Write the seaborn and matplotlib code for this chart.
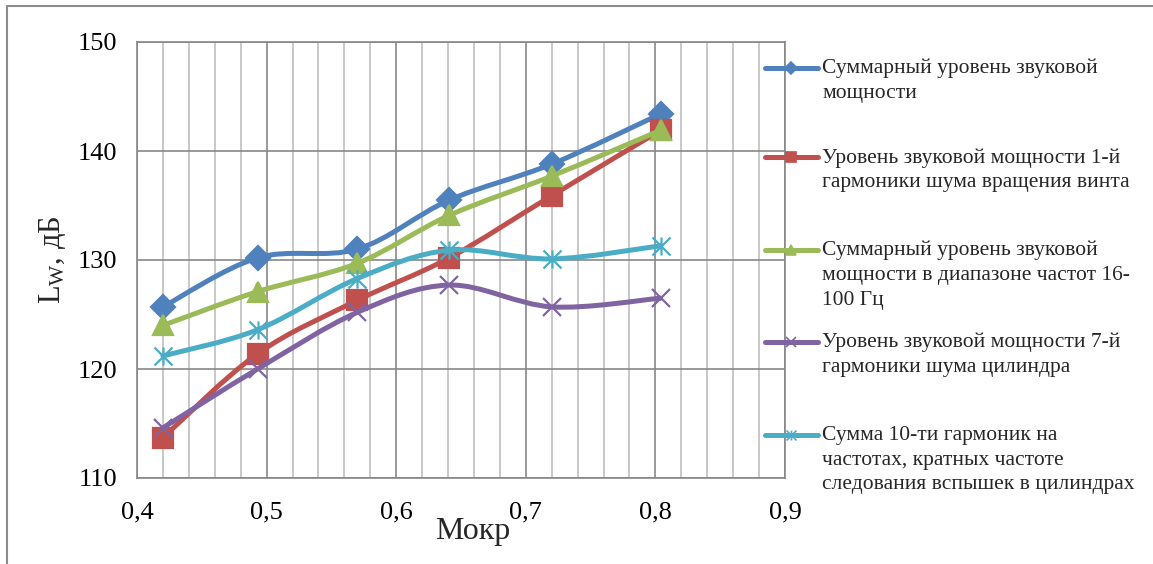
import numpy as np
import pandas as pd
import seaborn as sns
import matplotlib
matplotlib.use("Agg")
import matplotlib.pyplot as plt
from matplotlib.path import Path
from matplotlib.patches import PathPatch
from matplotlib.lines import Line2D
from matplotlib.ticker import MultipleLocator, FuncFormatter

# Mach number values (Мокр)
mach = [0.42, 0.493, 0.57, 0.641, 0.72, 0.804]

# Sound power levels, dB
total_level = [125.7, 130.2, 131.0, 135.5, 138.8, 143.4]
prop_h1 = [113.7, 121.4, 126.3, 130.2, 135.9, 141.9]
band_16_100 = [124.0, 127.1, 129.7, 134.1, 137.7, 141.9]
cyl_h7 = [114.6, 120.0, 125.2, 127.7, 125.7, 126.5]
firing_sum = [121.2, 123.6, 128.3, 130.9, 130.1, 131.3]

series_names = [
    "Суммарный уровень звуковой\nмощности",
    "Уровень звуковой мощности 1-й\nгармоники шума вращения винта",
    "Суммарный уровень звуковой\nмощности в диапазоне частот 16-\n100 Гц",
    "Уровень звуковой мощности 7-й\nгармоники шума цилиндра",
    "Сумма 10-ти гармоник на\nчастотах, кратных частоте\nследования вспышек в цилиндрах",
]
series_values = [total_level, prop_h1, band_16_100, cyl_h7, firing_sum]

x_ticks = [0.4, 0.5, 0.6, 0.7, 0.8, 0.9]
y_ticks = [110, 120, 130, 140, 150]

colors = ["#4F81BD", "#C0504D", "#9BBB59", "#8064A2", "#4BACC6"]

# Excel-style "star" marker: an X with a vertical stroke
star = Path(
    [(-1, -1), (1, 1), (-1, 1), (1, -1), (0, -1), (0, 1)],
    [Path.MOVETO, Path.LINETO, Path.MOVETO, Path.LINETO, Path.MOVETO, Path.LINETO],
)
markers = ["D", "s", "^", "x", star]
msizes = [12, 14, 14, 13, 13]

df = pd.concat(
    [pd.DataFrame({"Мокр": mach, "Lw": v, "series": n}) for n, v in zip(series_names, series_values)],
    ignore_index=True,
)

sns.set_style("white")
plt.rcParams["font.family"] = ["Liberation Serif", "DejaVu Serif"]
plt.rcParams["mathtext.fontset"] = "custom"
plt.rcParams["mathtext.rm"] = "Liberation Serif"

fig = plt.figure(figsize=(11.53, 5.64), dpi=100)
ax = fig.add_axes([137 / 1153, 1 - 478 / 564, (785 - 137) / 1153, (478 - 42) / 564])


def smooth_path(xs, ys):
    """Catmull-Rom style cubic Bezier through the points (Excel smoothed line)."""
    pts = np.column_stack([xs, ys])
    verts = [tuple(pts[0])]
    codes = [Path.MOVETO]
    n = len(pts)
    for i in range(n - 1):
        p0 = pts[max(i - 1, 0)]
        p1 = pts[i]
        p2 = pts[i + 1]
        p3 = pts[min(i + 2, n - 1)]
        c1 = p1 + (p2 - p0) / 6.0
        c2 = p2 - (p3 - p1) / 6.0
        verts += [tuple(c1), tuple(c2), tuple(p2)]
        codes += [Path.CURVE4] * 3
    return Path(verts, codes)


for k, name in enumerate(series_names):
    sub = df[df["series"] == name]
    z = 3 + k
    ax.add_patch(PathPatch(smooth_path(sub["Мокр"].values, sub["Lw"].values),
                           facecolor="none", edgecolor=colors[k], lw=3.6,
                           capstyle="round", joinstyle="round", zorder=z))
    sns.lineplot(data=sub, x="Мокр", y="Lw", ax=ax, sort=False, color=colors[k],
                 linewidth=0, marker=markers[k], markersize=msizes[k],
                 markeredgecolor=colors[k], markerfacecolor=colors[k],
                 markeredgewidth=1.6, legend=False, zorder=z + 0.5)

ax.set_xlim(0.4, 0.9)
ax.set_ylim(110, 150)
ax.set_xticks(x_ticks)
ax.set_yticks(y_ticks)
ax.xaxis.set_minor_locator(MultipleLocator(0.02))
ax.xaxis.set_major_formatter(FuncFormatter(lambda v, p: f"{v:.1f}".replace(".", ",")))
ax.grid(True, which="major", axis="both", color="#878787", lw=1.2, zorder=1)
ax.grid(True, which="minor", axis="x", color="#BFBFBF", lw=1.2, zorder=0.9)
ax.set_axisbelow(True)
for s in ax.spines.values():
    s.set_color("#878787")
    s.set_linewidth(1.2)
ax.tick_params(axis="both", which="major", length=4, color="#878787",
               labelsize=19, labelcolor="black")
ax.tick_params(axis="y", which="major", pad=10)
ax.tick_params(axis="x", which="major", pad=13)
ax.tick_params(which="minor", length=0)

ax.set_xlabel("Мокр", fontsize=23, labelpad=0)
ax.xaxis.set_label_coords((473 - 137) / (785 - 137), -0.09)
ax.set_ylabel(r"$\mathregular{L_W}$, дБ", fontsize=22)
ax.yaxis.set_label_coords(-0.106, 0.5)

# Legend drawn beside the plot, marker line aligned with each entry's first text line
handle_y = [68, 157, 250, 342, 435]
for k, name in enumerate(series_names):
    yf = 1 - handle_y[k] / 564
    fig.add_artist(Line2D([765 / 1153, 818 / 1153], [yf, yf], transform=fig.transFigure,
                          color=colors[k], lw=3.6, solid_capstyle="round"))
    fig.add_artist(Line2D([791 / 1153], [yf], transform=fig.transFigure, color=colors[k],
                          marker=markers[k], markersize=msizes[k] * 0.55,
                          markeredgecolor=colors[k], markeredgewidth=1.2))
    fig.text(822 / 1153, 1 - (handle_y[k] - 9) / 564, name, fontsize=15.5,
             va="top", ha="left", linespacing=1.4)

# Chart area frame
fig.add_artist(Line2D([7 / 1153, 7 / 1153], [0, 1 - 6 / 564], transform=fig.transFigure,
                      color="#8C8C8C", lw=1.5))
fig.add_artist(Line2D([7 / 1153, 1], [1 - 6 / 564, 1 - 6 / 564], transform=fig.transFigure,
                      color="#8C8C8C", lw=1.5))

fig.savefig("out.png", dpi=100)
